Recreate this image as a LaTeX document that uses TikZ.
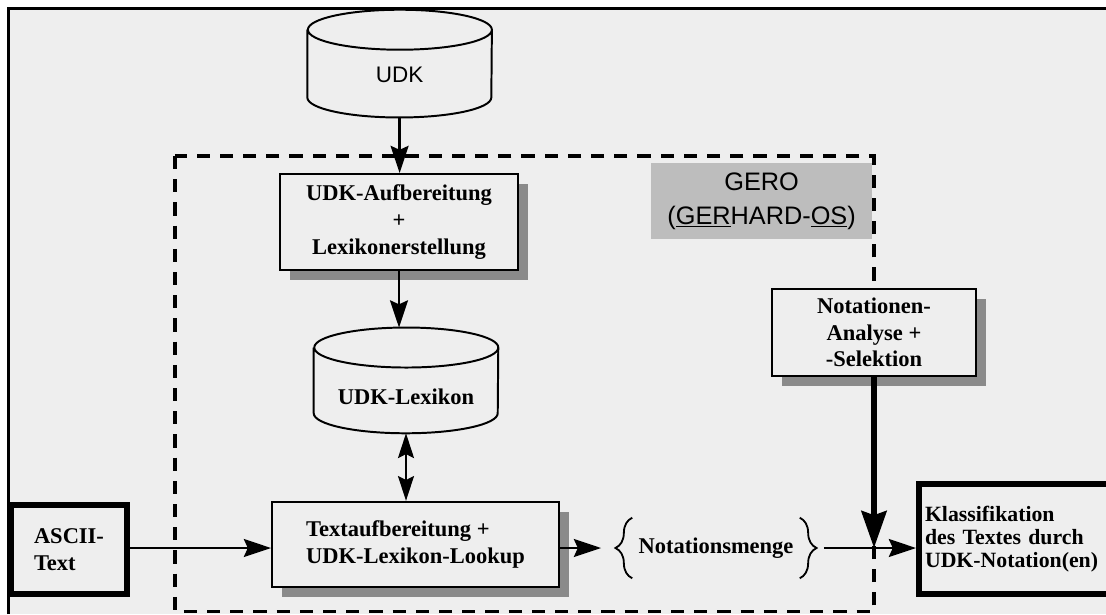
\documentclass[tikz,border=0pt]{standalone}
\usepackage{fontspec}
\setmainfont{Liberation Serif}
\setsansfont{Liberation Sans}
\usetikzlibrary{arrows.meta, shadows, decorations.pathreplacing}

\definecolor{paper}{HTML}{EEEEEE}
\definecolor{shade}{HTML}{8A8A8A}
\definecolor{geroback}{HTML}{BDBDBD}

\begin{document}
\begin{tikzpicture}
        [box/.style={rectangle, draw, line width=1.4pt, fill=paper, align=center,
            font=\bfseries\fontsize{16}{19}\selectfont,
            drop shadow={shadow xshift=0.25cm, shadow yshift=-0.25cm, fill=shade, opacity=1}},
        dbase/.style={rectangle, minimum width=4.6cm, inner sep=0pt},
        endbox/.style={rectangle, draw, line width=4.3pt, fill=paper, align=left},
        flow/.style={line width=1.6pt, -{Stealth[length=0.68cm, width=0.45cm, inset=0.1cm]}},
        twoway/.style={line width=1.4pt, {Stealth[length=0.62cm, width=0.4cm, inset=0.1cm]}-{Stealth[length=0.62cm, width=0.4cm, inset=0.1cm]}},
        bigflow/.style={line width=4.5pt, -{Stealth[length=0.92cm, width=0.62cm, inset=0.1cm]}},
        curly/.style={decorate, decoration={brace, amplitude=0.42cm}, line width=1.3pt},
        gero/.style={rectangle, fill=geroback, align=center, font=\sffamily\fontsize{18}{24}\selectfont}]

        \useasboundingbox (0,0) rectangle (27.65,-15.35);

        % paper and frame
        \fill[paper] (0.2125,-0.2125) rectangle (27.65,-15.35);
        \draw[line width=1.8pt] (0.2125,-15.35) -- (0.2125,-0.2125) -- (27.65,-0.2125);

        % GERO label and system boundary
        \node[gero, minimum width=5.53cm, minimum height=1.9cm] (sys) at (19.04,-5.025)
            {GERO\\(\underline{GER}HARD-\underline{OS})};
        \draw[dashed, dash pattern=on 0.33cm off 0.25cm, line width=2.4pt] (4.375,-3.9) rectangle (21.85,-15.28);

        % data stores (text sits a little below the middle)
        \node[dbase, minimum height=2.68cm,
            label={[yshift=-0.29cm, font=\sffamily\fontsize{16}{19}\selectfont]center:UDK}] (udk) at (9.99,-1.59) {};
        \node[dbase, minimum height=2.63cm,
            label={[yshift=-0.41cm, font=\bfseries\fontsize{16}{19}\selectfont]center:UDK-Lexikon}] (lex) at (10.15,-9.51) {};
        \foreach \db in {udk, lex}
            \draw[line width=1.4pt] ([yshift=-0.5cm]\db.north west) -- ([yshift=0.5cm]\db.south west)
                arc[start angle=180, end angle=360, x radius=2.3cm, y radius=0.5cm]
                -- ([yshift=-0.5cm]\db.north east)
                arc[start angle=0, end angle=360, x radius=2.3cm, y radius=0.5cm];

        % processing steps
        \node[box, minimum width=5.95cm, minimum height=2.4cm] (aufb) at (9.975,-5.55)
            {UDK-Aufbereitung\\+\\Lexikonerstellung};
        \node[box, minimum width=7.18cm, minimum height=2.13cm, align=left] (textauf) at (10.39,-13.61)
            {Textaufbereitung +\\UDK-Lexikon-Lookup};
        \node[box, minimum width=5.08cm, minimum height=2.18cm] (notat) at (21.85,-8.31)
            {Notationen-\\Analyse +\\-Selektion};

        % input and output
        \node[endbox, minimum width=2.9cm, minimum height=2.23cm,
            font=\bfseries\fontsize{16}{19}\selectfont] (ascii) at (1.725,-13.74) {ASCII-\\Text};
        \node[endbox, anchor=west, text width=4.6cm, inner xsep=0.15cm, minimum height=2.75cm,
            font=\bfseries\fontsize{15.5}{16.5}\selectfont] (klass) at (22.9,-13.475)
            {Klassifikation\\des Textes durch\\UDK-Notation(en)};

        % result set in braces
        \node[inner xsep=0.15cm, minimum height=1.5cm, font=\bfseries\fontsize{16}{19}\selectfont] (menge)
            at (17.9,-13.7) {Notationsmenge};
        \draw[curly] (menge.south west) -- (menge.north west);
        \draw[curly] (menge.north east) -- (menge.south east);

        % flow
        \draw[flow] (udk.south) -- (udk.south |- aufb.north);
        \draw[flow] (aufb.south) -- (aufb.south |- lex.north);
        \draw[twoway] (lex.south) -- (lex.south |- textauf.north);
        \draw[flow] (ascii.east |- menge.west) -- (menge.west -| textauf.west);
        \draw[flow] (textauf.east |- menge.west) -- ([xshift=-0.78cm]menge.west);
        \draw[flow] ([xshift=0.6cm]menge.east) -- (menge.east -| klass.west);
        \draw[bigflow] (notat.south) -- (notat.south |- menge.east);

\end{tikzpicture}
\end{document}
